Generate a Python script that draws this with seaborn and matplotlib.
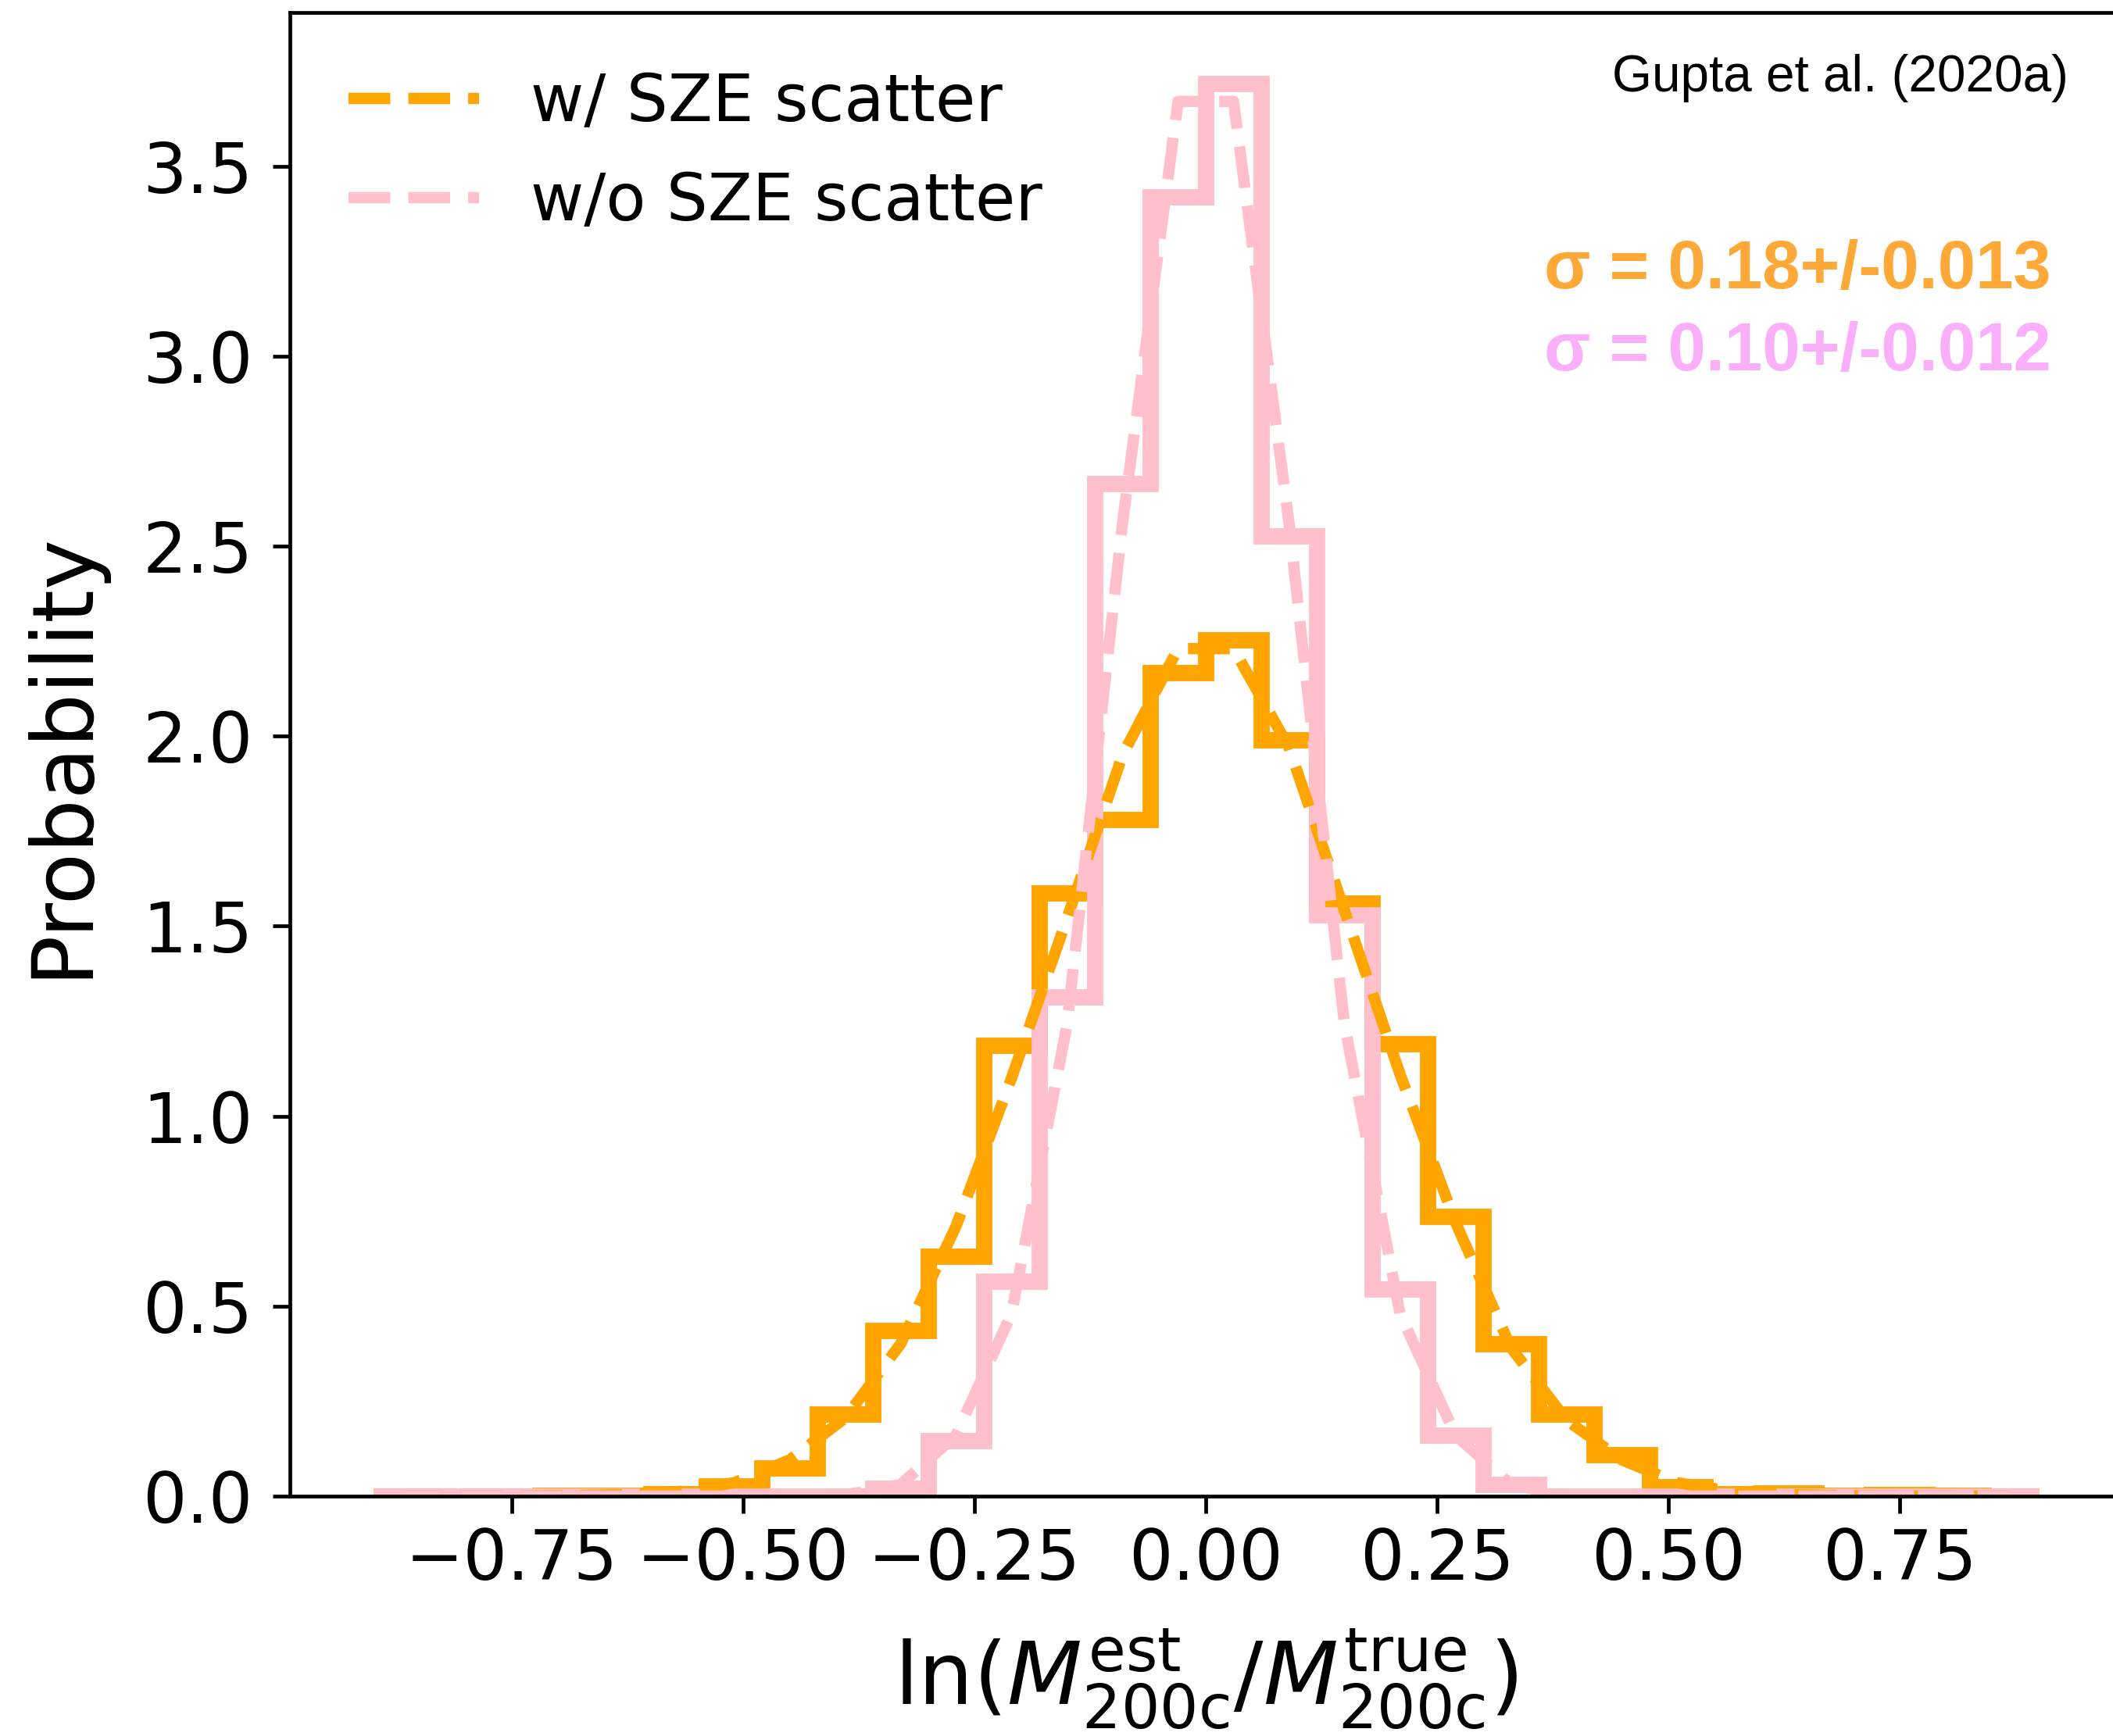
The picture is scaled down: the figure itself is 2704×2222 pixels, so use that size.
"""
Mass ratio histogram, with and without SZE scatter
"""

import numpy as np
import pandas as pd
import seaborn as sns
import matplotlib.pyplot as plt

# 30 bins of width 0.06 between -0.9 and 0.9
bin_edges = np.linspace(-0.9, 0.9, 31)
bin_centers = (bin_edges[:-1] + bin_edges[1:]) / 2

# histogram heights
hist_with = [0, 0, 0, 0.001, 0.002, 0.006, 0.027, 0.073, 0.216, 0.435,
             0.63, 1.186, 1.588, 1.78, 2.166, 2.254, 1.99, 1.56, 1.19, 0.735,
             0.40, 0.216, 0.108, 0.024, 0.005, 0.008, 0.001, 0.004, 0.001, 0]
hist_without = [0, 0, 0, 0, 0, 0, 0, 0, 0, 0.02,
                0.146, 0.565, 1.313, 2.664, 3.418, 3.717, 2.526, 1.53, 0.544, 0.16,
                0.031, 0, 0, 0, 0, 0, 0, 0, 0, 0]

# fitted curves at the bin centres
fit_with = [0, 0, 0, 0.001, 0.004, 0.012, 0.035, 0.095, 0.205, 0.40,
            0.71, 1.10, 1.52, 1.95, 2.23, 2.23, 1.97, 1.54, 1.11, 0.72,
            0.39, 0.20, 0.095, 0.035, 0.012, 0.004, 0.001, 0, 0, 0]
fit_without = [0, 0, 0, 0, 0, 0, 0, 0, 0.003, 0.03,
               0.16, 0.48, 1.24, 2.56, 3.67, 3.67, 2.56, 1.24, 0.48, 0.16,
               0.03, 0.003, 0, 0, 0, 0, 0, 0, 0, 0]

labels = ["w/ SZE scatter", "w/o SZE scatter"]
sigma_text = ["\u03c3 = 0.18+/-0.013", "\u03c3 = 0.10+/-0.012"]

df = pd.DataFrame({"x": bin_centers, "h_with": hist_with, "h_without": hist_without,
                   "f_with": fit_with, "f_without": fit_without})

plt.rcParams["font.family"] = ["DejaVu Sans"]
fig = plt.figure(figsize=(13.52, 11.11), dpi=200)
ax = fig.add_axes([0.1372, 0.1382, 0.8669, 0.8546])

step_kw = dict(element="step", fill=False, linewidth=7.5,
               solid_joinstyle="miter", solid_capstyle="butt")
sns.histplot(data=df, x="x", weights="h_with", bins=list(bin_edges),
             color="orange", ax=ax, **step_kw)
sns.histplot(data=df, x="x", weights="h_without", bins=list(bin_edges),
             color="pink", ax=ax, **step_kw)
sns.lineplot(data=df, x="x", y="f_with", color="orange", linestyle="--",
             linewidth=5.2, label=labels[0], ax=ax)
sns.lineplot(data=df, x="x", y="f_without", color="pink", linestyle="--",
             linewidth=5.2, label=labels[1], ax=ax)

ax.set_xlim(-0.99, 0.99)
ax.set_ylim(0, 3.904)
ax.set_xticks([-0.75, -0.5, -0.25, 0, 0.25, 0.5, 0.75])
ax.set_yticks([0, 0.5, 1.0, 1.5, 2.0, 2.5, 3.0, 3.5])
ax.tick_params(labelsize=32, length=8, width=1.7, colors="black")
ax.tick_params(axis="x", pad=6)
ax.tick_params(axis="y", pad=9)
for sp in ax.spines.values():
    sp.set_linewidth(1.7)
    sp.set_color("black")

ax.set_xlabel(r"$\ln(M^{\rm est}_{\rm 200c}/M^{\rm true}_{\rm 200c})$", fontsize=40, labelpad=15)
ax.set_ylabel("Probability", fontsize=39, labelpad=18)

ax.legend(loc="upper left", frameon=False, fontsize=30, labelspacing=0.55)

ax.text(0.971, 0.947, "Gupta et al. (2020a)", transform=ax.transAxes, ha="right",
        va="baseline", fontsize=23.7, family="Liberation Sans")
ax.text(0.9616, 0.814, sigma_text[0], transform=ax.transAxes, ha="right",
        va="baseline", fontsize=31.3, fontweight="bold", family="Liberation Sans",
        color="#FEA838")
ax.text(0.9616, 0.759, sigma_text[1], transform=ax.transAxes, ha="right",
        va="baseline", fontsize=31.3, fontweight="bold", family="Liberation Sans",
        color="#F9AFF9")

fig.savefig("out.png", dpi=200)
plt.close(fig)
print("Saved out.png")
